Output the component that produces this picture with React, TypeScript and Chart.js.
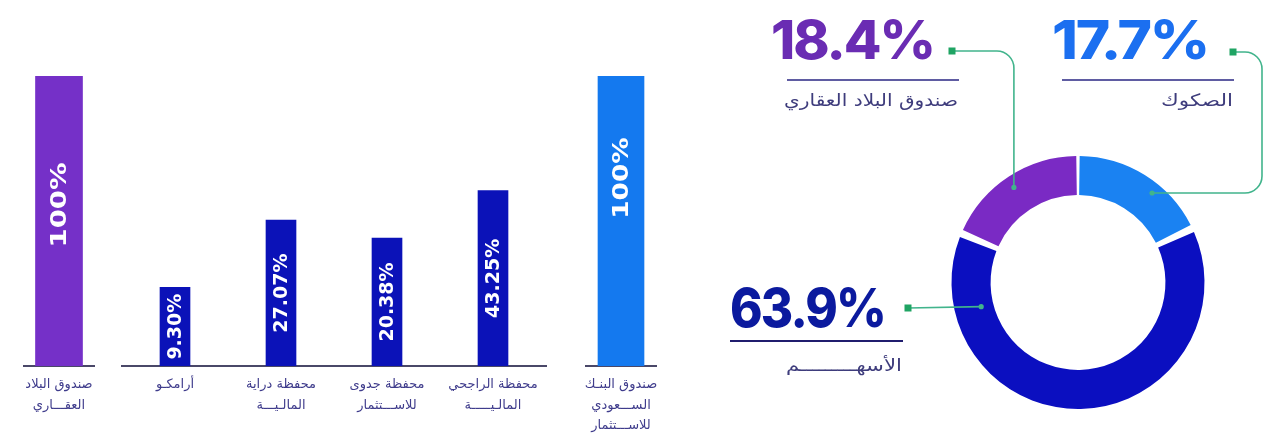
import React, { useEffect, useRef } from "react";
import { Chart, registerables } from "chart.js";

Chart.register(...registerables);

// ---------- data ----------
const realEstateLabels = [["صندوق البلاد", "العقـــاري"]];
const realEstateValues = [100];

const portfolioLabels = [
  ["أرامكـو"],
  ["محفظة دراية", "المالـيـــة"],
  ["محفظة جدوى", "للاســـتثمار"],
  ["محفظة الراجحي", "المالـيـــــة"],
];
const portfolioValues = [9.3, 27.07, 20.38, 43.25];

const saudiFundLabels = [["صندوق البنـك", "الســـعودي", "للاســـتثمار"]];
const saudiFundValues = [100];

const allocationLabels = ["الصكوك", "الأسهـــــــــم", "صندوق البلاد العقاري"];
const allocationValues = [17.7, 63.9, 18.4];

// scale ranges (the middle panel of the infographic is not linear)
const portfolioLogMin = 2.66;
const portfolioLogMax = 268;

// ---------- helpers ----------
const fmtBar = (v: number) => (Number.isInteger(v) ? `${v}%` : `${v.toFixed(2)}%`);

const barValuePlugin = {
  id: "barValues",
  afterDatasetsDraw(chart: any, _args: any, opts: any) {
    const { ctx } = chart;
    const meta = chart.getDatasetMeta(0);
    const vals = chart.data.datasets[0].data as number[];
    meta.data.forEach((bar: any, i: number) => {
      const { x, y, base } = bar.getProps(["x", "y", "base"], true);
      ctx.save();
      ctx.translate(x + 1, (y + base) / 2 + (opts.shift || 0));
      ctx.rotate(-Math.PI / 2);
      ctx.scale(opts.stretch || 1, 1);
      ctx.font = opts.font;
      ctx.fillStyle = "#ffffff";
      ctx.textAlign = "center";
      ctx.textBaseline = "middle";
      ctx.fillText(fmtBar(vals[i]), 0, 0);
      ctx.restore();
    });
  },
};

type BarPanelProps = {
  labels: string[][];
  values: number[];
  color: string;
  left: number;
  width: number;
  padLeft: number;
  padRight: number;
  barThickness: number;
  log?: boolean;
  valueFont: string;
  stretch: number;
  shift: number;
};

function BarPanel(p: BarPanelProps) {
  const ref = useRef<HTMLCanvasElement>(null);
  useEffect(() => {
    const chart = new Chart(ref.current as HTMLCanvasElement, {
      type: "bar",
      data: {
        labels: p.labels as any,
        datasets: [
          {
            data: p.values,
            backgroundColor: p.color,
            barThickness: p.barThickness,
            borderWidth: 0,
          },
        ],
      },
      options: {
        responsive: false,
        animation: false,
        layout: {
          padding: { top: 76, left: p.padLeft, right: p.padRight, bottom: 0 },
          autoPadding: false,
        } as any,
        plugins: {
          legend: { display: false },
          tooltip: { enabled: false },
          barValues: { font: p.valueFont, stretch: p.stretch, shift: p.shift },
        } as any,
        scales: {
          x: {
            grid: { display: false, drawTicks: false },
            border: { display: true, color: "#4a4868", width: 2 },
            ticks: {
              color: "#3f3c8c",
              font: { family: "'DejaVu Sans'", size: 13, lineHeight: 1.55 },
              padding: 9,
              maxRotation: 0,
              minRotation: 0,
              autoSkip: false,
            },
            afterFit: (s: any) => {
              s.height = 72;
            },
          },
          y: p.log
            ? { type: "logarithmic", display: false, min: portfolioLogMin, max: portfolioLogMax }
            : { type: "linear", display: false, min: 0, max: 100 },
        } as any,
      },
      plugins: [barValuePlugin as any],
    });
    return () => chart.destroy();
  }, []);
  return (
    <canvas
      ref={ref}
      width={p.width}
      height={438}
      style={{ position: "absolute", left: p.left, top: 0, width: p.width, height: 438 }}
    />
  );
}

// ---------- donut ----------
const DONUT_LEFT = 700;

type Callout = {
  index: number;
  color: string;
  right: number;
  base: number;
  width: number;
  dot: [number, number];
  angle: number;
  depth: number;
  route: "wrap" | "down" | "straight";
  turnX?: number;
  ulFrom: number;
  ulTo: number;
  ulY: number;
  ulColor: string;
  labelRight: number;
  labelBase: number;
  labelWidth: number;
};

const callouts: Callout[] = [
  {
    index: 0, color: "#1b6ff0", right: 1208, base: 59, width: 156, dot: [1233, 52],
    angle: 39.6, depth: 0.8, route: "wrap", turnX: 1262,
    ulFrom: 1062, ulTo: 1234, ulY: 80, ulColor: "#5f5ca2", labelRight: 1233, labelBase: 106,
    labelWidth: 72,
  },
  {
    index: 2, color: "#6a2cb3", right: 934, base: 59, width: 163, dot: [952, 51],
    angle: 326, depth: 0.76, route: "down",
    ulFrom: 787, ulTo: 959, ulY: 80, ulColor: "#5f5ca2", labelRight: 958, labelBase: 106,
    labelWidth: 174,
  },
  {
    index: 1, color: "#0b1a9e", right: 885, base: 327, width: 155, dot: [908, 308],
    angle: 256, depth: 0.38, route: "straight",
    ulFrom: 730, ulTo: 903, ulY: 341, ulColor: "#201d6e", labelRight: 902, labelBase: 371,
    labelWidth: 116,
  },
];

const calloutPlugin = {
  id: "callouts",
  afterDraw(chart: any) {
    const { ctx } = chart;
    const meta = chart.getDatasetMeta(0);
    const arc0 = meta.data[0] as any;
    const cx = arc0.x;
    const cy = arc0.y;
    const outer = arc0.outerRadius;
    const inner = arc0.innerRadius;
    const vals = chart.data.datasets[0].data as number[];
    const labels = chart.data.labels as string[];
    const ox = -DONUT_LEFT;
    const lineC = "#41b48c";
    callouts.forEach((c) => {
      const r = inner + (outer - inner) * c.depth;
      const a = (c.angle * Math.PI) / 180;
      const ex = cx + r * Math.sin(a);
      const ey = cy - r * Math.cos(a);
      const dx = c.dot[0] + ox;
      const dy = c.dot[1];
      const R = 17;
      ctx.save();
      // connector
      ctx.strokeStyle = lineC;
      ctx.lineWidth = 1.6;
      ctx.beginPath();
      ctx.moveTo(dx, dy);
      if (c.route === "straight") {
        ctx.lineTo(ex, ey);
      } else if (c.route === "down") {
        ctx.lineTo(ex - R, dy);
        ctx.arcTo(ex, dy, ex, dy + R, R);
        ctx.lineTo(ex, ey);
      } else {
        const vx = (c.turnX as number) + ox;
        ctx.lineTo(vx - R, dy);
        ctx.arcTo(vx, dy, vx, dy + R, R);
        ctx.lineTo(vx, ey - R);
        ctx.arcTo(vx, ey, vx - R, ey, R);
        ctx.lineTo(ex, ey);
      }
      ctx.stroke();
      // end dot
      ctx.fillStyle = lineC;
      ctx.beginPath();
      ctx.arc(ex, ey, 2.6, 0, Math.PI * 2);
      ctx.fill();
      // start square
      ctx.fillStyle = "#1fa463";
      ctx.fillRect(dx - 3.5, dy - 3.5, 7, 7);
      // underline
      ctx.strokeStyle = c.ulColor;
      ctx.lineWidth = 2.2;
      ctx.beginPath();
      ctx.moveTo(c.ulFrom + ox, c.ulY);
      ctx.lineTo(c.ulTo + ox, c.ulY);
      ctx.stroke();
      // big value
      const txt = `${vals[c.index].toFixed(1)}%`;
      ctx.font = "800 54px Inter";
      try {
        (ctx as any).letterSpacing = "-2px";
      } catch (e) {}
      ctx.fillStyle = c.color;
      ctx.textBaseline = "alphabetic";
      ctx.textAlign = "left";
      const w = ctx.measureText(txt).width;
      const sx = c.width / w;
      ctx.save();
      ctx.translate(c.right + ox - c.width, c.base);
      ctx.scale(sx, 1);
      ctx.fillText(txt, 0, 0);
      ctx.restore();
      try {
        (ctx as any).letterSpacing = "0px";
      } catch (e) {}
      // category label
      ctx.font = "17px 'DejaVu Sans'";
      ctx.fillStyle = "#3e3c7c";
      ctx.textAlign = "right";
      const lw = ctx.measureText(labels[c.index]).width;
      const lsx = Math.min(1.4, Math.max(0.8, c.labelWidth / lw));
      ctx.save();
      ctx.translate(c.labelRight + ox, c.labelBase);
      ctx.scale(lsx, 1);
      ctx.fillText(labels[c.index], 0, 0);
      ctx.restore();
      ctx.restore();
    });
  },
};

function DonutPanel() {
  const ref = useRef<HTMLCanvasElement>(null);
  useEffect(() => {
    const chart = new Chart(ref.current as HTMLCanvasElement, {
      type: "doughnut",
      data: {
        labels: allocationLabels,
        datasets: [
          {
            data: allocationValues,
            backgroundColor: ["#1a82f2", "#0b0fc0", "#7a2ac4"],
            borderWidth: 0,
            spacing: 5,
          } as any,
        ],
      },
      options: {
        responsive: false,
        animation: false,
        cutout: "68.5%",
        layout: {
          padding: { top: 156, bottom: 29, left: 251.5, right: 66.5 },
          autoPadding: false,
        } as any,
        plugins: { legend: { display: false }, tooltip: { enabled: false } },
      } as any,
      plugins: [calloutPlugin as any],
    });
    return () => chart.destroy();
  }, []);
  return (
    <canvas
      ref={ref}
      width={571}
      height={438}
      style={{ position: "absolute", left: DONUT_LEFT, top: 0, width: 571, height: 438 }}
    />
  );
}

export default function App() {
  return (
    <div
      style={{
        position: "absolute",
        left: 0,
        top: 0,
        width: 1271,
        height: 438,
        background: "#ffffff",
        overflow: "hidden",
      }}
    >
      <BarPanel
        labels={realEstateLabels}
        values={realEstateValues}
        color="#7530c8"
        left={0}
        width={120}
        padLeft={24}
        padRight={26}
        barThickness={47}
        valueFont="bold 22px 'DejaVu Sans'"
        stretch={1.25}
        shift={-16}
      />
      <BarPanel
        labels={portfolioLabels}
        values={portfolioValues}
        color="#0b12b8"
        left={110}
        width={460}
        padLeft={12}
        padRight={24}
        barThickness={30}
        log
        valueFont="bold 19px 'DejaVu Sans'"
        stretch={1}
        shift={0}
      />
      <BarPanel
        labels={saudiFundLabels}
        values={saudiFundValues}
        color="#1479ef"
        left={560}
        width={130}
        padLeft={26}
        padRight={34}
        barThickness={46}
        valueFont="bold 22px 'DejaVu Sans'"
        stretch={1.2}
        shift={-43}
      />
      <DonutPanel />
    </div>
  );
}
